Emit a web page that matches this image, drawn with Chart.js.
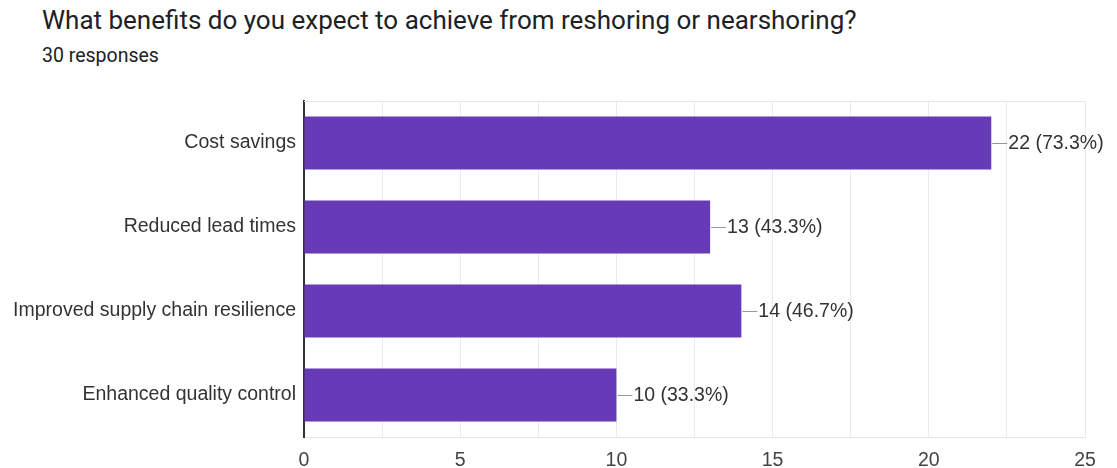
<!DOCTYPE html>
<html>
<head>
<meta charset="utf-8">
<script src="https://cdn.jsdelivr.net/npm/chart.js@4"></script>
<style>
  html, body { margin: 0; padding: 0; background: #fff; }
  #wrap { position: relative; width: 1117px; height: 468px; overflow: hidden; }
  #title { position: absolute; left: 42px; top: 7px; font: 26px/1 Roboto, sans-serif; color: #202124; white-space: nowrap; }
  #sub { position: absolute; left: 42px; top: 46px; font: 19.5px/1 Roboto, sans-serif; color: #202124; white-space: nowrap; }
  canvas { position: absolute; left: 0; top: 0; }
</style>
</head>
<body>
<div id="wrap">
  <div id="title">What benefits do you expect to achieve from reshoring or nearshoring?</div>
  <div id="sub">30 responses</div>
  <canvas id="chart" width="1117" height="468"></canvas>
</div>
<script>
const categories = ['Cost savings', 'Reduced lead times', 'Improved supply chain resilience', 'Enhanced quality control'];
const counts = [22, 13, 14, 10];
const totalResponses = 30;
const xTicks = [0, 5, 10, 15, 20, 25];

const chartFont = '"Liberation Sans", Arial, sans-serif';

// value labels with a short leader line, like Google Forms
const barLabels = {
    id: 'barLabels',
    afterDatasetsDraw(chart) {
        const ctx = chart.ctx;
        const meta = chart.getDatasetMeta(0);
        ctx.save();
        ctx.font = '19.5px ' + chartFont;
        ctx.fillStyle = '#333';
        ctx.textBaseline = 'middle';
        meta.data.forEach((bar, i) => {
            const v = counts[i];
            const pct = (v / totalResponses * 100).toFixed(1);
            ctx.strokeStyle = '#999';
            ctx.lineWidth = 1;
            ctx.beginPath();
            ctx.moveTo(bar.x + 1, bar.y + 0.5);
            ctx.lineTo(bar.x + 16, bar.y + 0.5);
            ctx.stroke();
            ctx.fillText(v + ' (' + pct + '%)', bar.x + 17, bar.y + 1);
        });
        // top border of the plot area
        const a = chart.chartArea;
        ctx.strokeStyle = '#e6e6e6';
        ctx.beginPath();
        ctx.moveTo(a.left, a.top + 0.5);
        ctx.lineTo(a.right, a.top + 0.5);
        ctx.stroke();
        ctx.restore();
    }
};

new Chart(document.getElementById('chart').getContext('2d'), {
    type: 'bar',
    data: {
        labels: categories,
        datasets: [{
            data: counts,
            backgroundColor: '#673ab7',
            borderWidth: 0,
            barPercentage: 0.8,
            categoryPercentage: 0.79
        }]
    },
    options: {
        indexAxis: 'y',
        responsive: false,
        animation: false,
        layout: { padding: { top: 101, right: 32, left: 0, bottom: 0 } },
        plugins: {
            legend: { display: false },
            tooltip: { enabled: false }
        },
        scales: {
            x: {
                min: 0,
                max: 25,
                afterFit(scale) { scale.height = 31; },
                afterBuildTicks(scale) {
                    // minor grid every 2.5, labels only on the 5s
                    const t = [];
                    for (let i = 0; i <= 10; i++) t.push({ value: i * 2.5 });
                    scale.ticks = t;
                },
                ticks: {
                    padding: 12,
                    color: '#444',
                    font: { family: chartFont, size: 19.5 },
                    callback: (v) => xTicks.includes(v) ? String(v) : ''
                },
                grid: { color: '#ebebeb', drawTicks: false },
                border: { display: true, color: '#e6e6e6' }
            },
            y: {
                afterFit(scale) { scale.width = 304; },
                ticks: {
                    padding: 8,
                    color: '#333',
                    font: { family: chartFont, size: 19.5 }
                },
                grid: { display: false, drawTicks: false },
                border: { display: true, color: '#333', width: 2 }
            }
        }
    },
    plugins: [barLabels]
});
</script>
</body>
</html>
